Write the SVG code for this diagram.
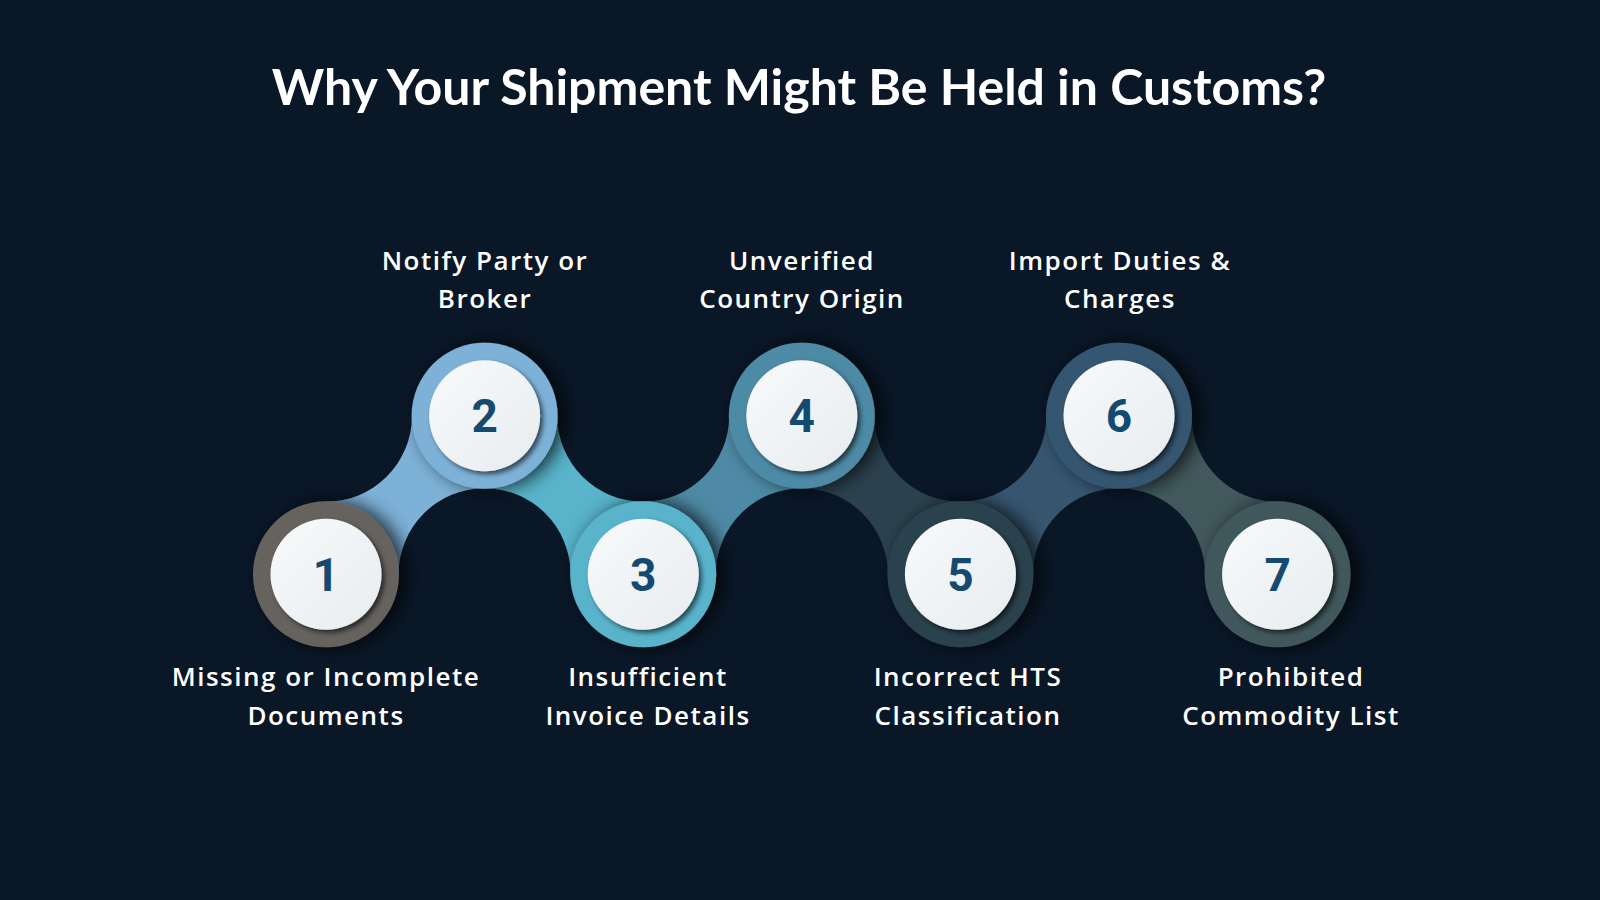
<svg xmlns="http://www.w3.org/2000/svg" width="1600" height="900" viewBox="0 0 1600 900">
  <defs>
    <linearGradient id="disc" x1="0" y1="0" x2="1" y2="1">
      <stop offset="0" stop-color="#f8fafb"/>
      <stop offset="1" stop-color="#e7ecef"/>
    </linearGradient>
    <filter id="ringShadow" x="-50%" y="-50%" width="200%" height="200%">
      <feDropShadow dx="7" dy="0" stdDeviation="9" flood-color="#000" flood-opacity="0.75"/>
    </filter>
    <filter id="discShadow" x="-30%" y="-30%" width="160%" height="160%">
      <feDropShadow dx="3" dy="3" stdDeviation="2.5" flood-color="#000" flood-opacity="0.6"/>
    </filter>
    <style>
      .title { font-family: Lato, "Liberation Sans", sans-serif; font-weight: 700; font-size: 50px; fill: #ffffff; text-anchor: middle; }
      .label { font-family: "Open Sans", "Liberation Sans", sans-serif; font-weight: 600; font-size: 26px; fill: #ffffff; text-anchor: middle; letter-spacing: 1.5px; }
      .num { font-family: Roboto, "Liberation Sans", sans-serif; font-weight: 700; font-size: 46px; fill: #154a70; text-anchor: middle; }
      .disc { fill: url(#disc); filter: url(#discShadow); }
      .ring { filter: url(#ringShadow); }
    </style>
  </defs>
  <rect width="1600" height="900" fill="#0a1727"/>

  <text class="title" x="799" y="105">Why Your Shipment Might Be Held in Customs?</text>

  <g id="connectors">
    <path id="link-1-2" fill="#7db1d7" d="M326,501.7 L326,574.3 L398.6,574.3 A86 86 0 0 1 484.6,488.3 L484.6,415.7 L412,415.7 A86 86 0 0 1 326,501.7 Z"/>
    <path id="link-2-3" fill="#58b3cb" d="M484.6,415.7 L557.2,415.7 A86 86 0 0 0 643.2,501.7 L643.2,574.3 L570.6,574.3 A86 86 0 0 0 484.6,488.3 Z"/>
    <path id="link-3-4" fill="#4e8aa5" d="M643.2,501.7 L643.2,574.3 L715.8,574.3 A86 86 0 0 1 801.8,488.3 L801.8,415.7 L729.2,415.7 A86 86 0 0 1 643.2,501.7 Z"/>
    <path id="link-4-5" fill="#2b424e" d="M801.8,415.7 L874.4,415.7 A86 86 0 0 0 960.4,501.7 L960.4,574.3 L887.8,574.3 A86 86 0 0 0 801.8,488.3 Z"/>
    <path id="link-5-6" fill="#36566f" d="M960.4,501.7 L960.4,574.3 L1033,574.3 A86 86 0 0 1 1119,488.3 L1119,415.7 L1046.4,415.7 A86 86 0 0 1 960.4,501.7 Z"/>
    <path id="link-6-7" fill="#41585c" d="M1119,415.7 L1191.6,415.7 A86 86 0 0 0 1277.6,501.7 L1277.6,574.3 L1205,574.3 A86 86 0 0 0 1119,488.3 Z"/>
  </g>

  <g id="node-1">
    <circle class="ring" cx="326" cy="574.3" r="73" fill="#66645f"/>
    <circle class="disc" cx="326" cy="574.3" r="55.5"/>
    <text class="num" x="326" y="591">1</text>
    <text class="label" x="326" y="686">Missing or Incomplete</text>
    <text class="label" x="326" y="725">Documents</text>
  </g>
  <g id="node-2">
    <circle class="ring" cx="484.6" cy="415.7" r="73" fill="#7db1d7"/>
    <circle class="disc" cx="484.6" cy="415.7" r="55.5"/>
    <text class="num" x="484.6" y="432.4">2</text>
    <text class="label" x="485" y="270">Notify Party or</text>
    <text class="label" x="485" y="308">Broker</text>
  </g>
  <g id="node-3">
    <circle class="ring" cx="643.2" cy="574.3" r="73" fill="#58b3cb"/>
    <circle class="disc" cx="643.2" cy="574.3" r="55.5"/>
    <text class="num" x="643.2" y="591">3</text>
    <text class="label" x="648" y="686">Insufficient</text>
    <text class="label" x="648" y="725">Invoice Details</text>
  </g>
  <g id="node-4">
    <circle class="ring" cx="801.8" cy="415.7" r="73" fill="#4e8aa5"/>
    <circle class="disc" cx="801.8" cy="415.7" r="55.5"/>
    <text class="num" x="801.8" y="432.4">4</text>
    <text class="label" x="802" y="270">Unverified</text>
    <text class="label" x="802" y="308">Country Origin</text>
  </g>
  <g id="node-5">
    <circle class="ring" cx="960.4" cy="574.3" r="73" fill="#2b424e"/>
    <circle class="disc" cx="960.4" cy="574.3" r="55.5"/>
    <text class="num" x="960.4" y="591">5</text>
    <text class="label" x="968" y="686">Incorrect HTS</text>
    <text class="label" x="968" y="725">Classification</text>
  </g>
  <g id="node-6">
    <circle class="ring" cx="1119" cy="415.7" r="73" fill="#36566f"/>
    <circle class="disc" cx="1119" cy="415.7" r="55.5"/>
    <text class="num" x="1119" y="432.4">6</text>
    <text class="label" x="1120" y="270">Import Duties &amp;</text>
    <text class="label" x="1120" y="308">Charges</text>
  </g>
  <g id="node-7">
    <circle class="ring" cx="1277.6" cy="574.3" r="73" fill="#41585c"/>
    <circle class="disc" cx="1277.6" cy="574.3" r="55.5"/>
    <text class="num" x="1277.6" y="591">7</text>
    <text class="label" x="1291" y="686">Prohibited</text>
    <text class="label" x="1291" y="725">Commodity List</text>
  </g>
</svg>
